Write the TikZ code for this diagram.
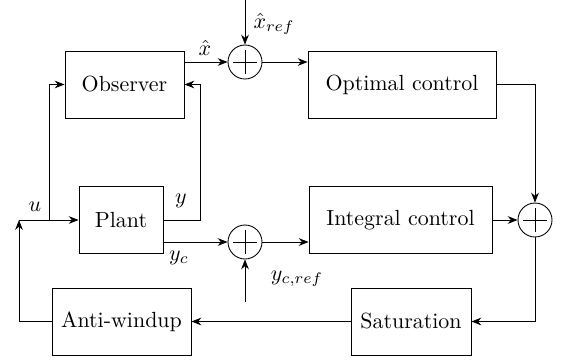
\documentclass[tikz,border=0pt]{standalone}
\usepackage{amsmath}
\usetikzlibrary{arrows.meta,positioning}
\tikzset{
  block/.style={draw,rectangle,minimum height=30.6pt,inner sep=2pt},
  sumnode/.style={draw,circle,minimum size=15.5pt,inner sep=0pt,
    path picture={
      \draw ([xshift=-5.5pt]path picture bounding box.center) -- ([xshift=5.5pt]path picture bounding box.center);
      \draw ([yshift=-5.5pt]path picture bounding box.center) -- ([yshift=5.5pt]path picture bounding box.center);}},
  sig/.style={-{Stealth[length=4.5pt,width=3.5pt]}},
  wire/.style={draw},
  lbl/.style={inner sep=1pt},
}
\begin{document}
\begin{tikzpicture}[x=0.456pt,y=-0.456pt]
  \useasboundingbox (0,0) rectangle (562,361);
  % blocks
  \node[block,minimum width=54.3pt] (obs) at (124.5,84.5) {Observer};
  \node[block,minimum width=38.3pt] (plant) at (121,220) {Plant};
  \node[block,minimum width=85.7pt] (opt) at (402,84.5) {Optimal control};
  \node[block,minimum width=83.4pt] (int) at (400.5,220) {Integral control};
  \node[block,minimum width=63.4pt] (aw) at (121.5,321.5) {Anti-windup};
  \node[block,minimum width=54.7pt] (sat) at (411,321.5) {Saturation};
  % summing junctions
  \node[sumnode] (sumx) at (245,62) {};
  \node[sumnode] (sumy) at (245,242) {};
  \node[sumnode] (sumu) at (535,220) {};
  % free ends and corners
  \coordinate (xref) at (245,0);
  \coordinate (ycref) at (245,302);
  \coordinate (ucorner) at (19,220);
  \coordinate (ubranch) at (49,220);
  \coordinate (ycorner) at (200,220);
  % signals
  \draw[sig] (obs.east |- sumx) -- (sumx);
  \draw[sig] (xref) -- (sumx);
  \draw[sig] (sumx) -- (sumx -| opt.west);
  \draw[sig] (opt.east) -| (sumu);
  \draw[sig] (int.east) -- (sumu);
  \draw[sig] (sumu) |- (sat.east);
  \draw[sig] (sat.west) -- (aw.east);
  \draw[sig] (aw.west) -| (ucorner);
  \draw[sig] (ucorner) -- (plant.west);
  \draw[sig] (ubranch) |- (obs.west);
  \draw[sig] (plant.east) -- (ycorner) |- (obs.east);
  \draw[sig] (plant.east |- sumy) -- (sumy);
  \draw[sig] (ycref) -- (sumy);
  \draw[sig] (sumy) -- (sumy -| int.west);
  % labels
  \node[lbl] (xhatlbl) at (205,48) {$\hat{x}$};
  \node[lbl] (xreflbl) at (274,24) {$\hat{x}_{ref}$};
  \node[lbl] (ulbl) at (35,207) {$u$};
  \node[lbl] (ylbl) at (181,201) {$y$};
  \node[lbl] (yclbl) at (179,258) {$y_c$};
  \node[lbl] (ycreflbl) at (297,279) {$y_{c,ref}$};
\end{tikzpicture}
\end{document}
